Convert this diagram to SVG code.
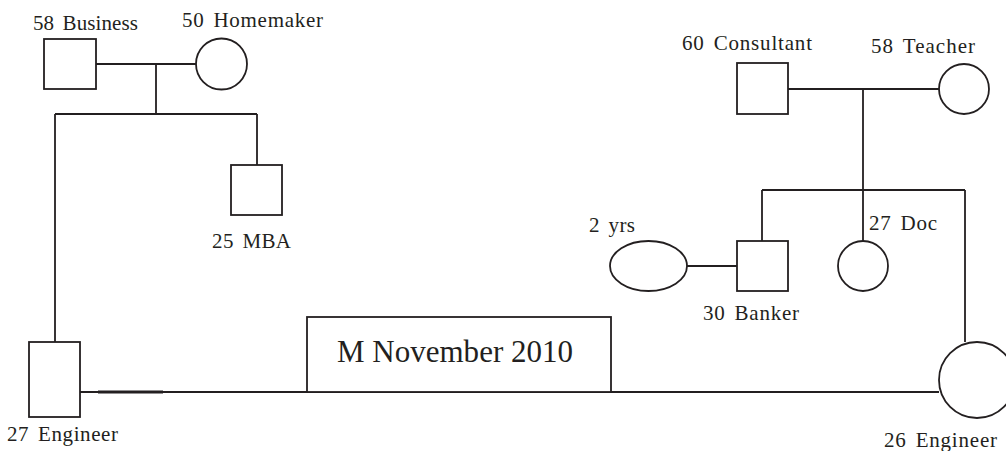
<svg xmlns="http://www.w3.org/2000/svg" width="1006" height="451" viewBox="0 0 1006 451">
<style>
.s{fill:none;stroke:#231f20;stroke-width:1.8}
.n{fill:#fff;stroke:#231f20;stroke-width:1.8}
.t{font-family:"Liberation Serif","Times New Roman",serif;font-size:21px;word-spacing:3px;fill:#231f20}
.b{font-family:"Liberation Serif","Times New Roman",serif;font-size:31px;fill:#231f20}
</style>
<rect width="1006" height="451" fill="#fff"/>
<g id="connectors" class="s">
<path d="M96 64H196M156 64V114M55 114H257M55 114V342M257 114V165"/>
<path d="M788 89H939M863 89V241M762 190H965M762 190V241M965 190V342"/>
<path d="M687 266H737"/>
<path d="M80 392H939"/>
<path d="M98 392H163" stroke-width="3"/>
</g>
<g id="n58business"><rect class="n" x="44" y="39" width="52" height="50"/><text class="t" x="33" y="30" textLength="105" lengthAdjust="spacing">58 Business</text></g>
<g id="n50homemaker"><circle class="n" cx="221.5" cy="64" r="25.5"/><text class="t" x="182" y="27" textLength="141" lengthAdjust="spacing">50 Homemaker</text></g>
<g id="n25mba"><rect class="n" x="231" y="165" width="51" height="50"/><text class="t" x="212" y="248" textLength="79" lengthAdjust="spacing">25 MBA</text></g>
<g id="n27engineer"><rect class="n" x="29" y="342" width="51" height="75"/><text class="t" x="7" y="441" textLength="111" lengthAdjust="spacing">27 Engineer</text></g>
<g id="n60consultant"><rect class="n" x="737" y="63" width="51" height="51"/><text class="t" x="682" y="50" textLength="130" lengthAdjust="spacing">60 Consultant</text></g>
<g id="n58teacher"><circle class="n" cx="964" cy="89" r="25"/><text class="t" x="871" y="53" textLength="104" lengthAdjust="spacing">58 Teacher</text></g>
<g id="n2yrs"><ellipse class="n" cx="648.5" cy="266" rx="38.5" ry="25"/><text class="t" x="589" y="232" textLength="46" lengthAdjust="spacing">2 yrs</text></g>
<g id="n30banker"><rect class="n" x="737" y="241" width="51" height="50"/><text class="t" x="703" y="320" textLength="96" lengthAdjust="spacing">30 Banker</text></g>
<g id="n27doc"><circle class="n" cx="863" cy="266" r="25"/><text class="t" x="869" y="230" textLength="68" lengthAdjust="spacing">27 Doc</text></g>
<g id="n26engineer"><circle class="n" cx="977" cy="380" r="38"/><text class="t" x="884" y="447" textLength="113" lengthAdjust="spacing">26 Engineer</text></g>
<g id="marriage"><rect class="n" x="307" y="317" width="304" height="75"/><text class="b" x="337" y="362" textLength="236" lengthAdjust="spacingAndGlyphs">M November 2010</text></g>
</svg>
